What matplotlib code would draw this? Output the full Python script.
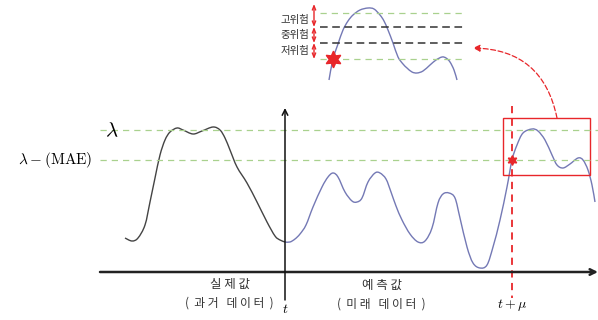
import numpy as np
import matplotlib.pyplot as plt
from matplotlib.patches import Rectangle, FancyArrowPatch, PathPatch
from matplotlib.path import Path

plt.rcParams['font.family'] = ['Noto Sans CJK KR', 'DejaVu Sans']
plt.rcParams['mathtext.fontset'] = 'cm'

# actual (past) series, x = time position, y = level (screen-down units)
actual_x = [125, 132, 138, 145, 150, 155, 160, 165, 170, 177, 183, 193, 202, 213, 220,
            225, 230, 237, 247, 257, 267, 275, 280, 285]
actual_y = [238, 241, 238, 225, 202, 178, 155, 140, 132, 128, 130, 134, 131, 127, 130,
            138, 150, 167, 183, 202, 222, 236, 240, 242]

# predicted (future) series
pred_x = [285, 290, 295, 300, 306, 313, 322, 328, 333, 338, 345, 352, 357, 362, 368, 375,
          380, 386, 391, 396, 402, 410, 418, 425, 432, 438, 443, 449, 455, 460, 467, 473,
          480, 487, 493, 500, 507, 512, 517, 523, 532, 538, 545, 552, 557, 563, 570, 578,
          583, 588, 592, 595]
pred_y = [242, 242, 239, 234, 225, 207, 187, 177, 173, 177, 192, 201, 202, 198, 182, 173,
          173, 179, 192, 206, 220, 234, 242, 241, 228, 203, 194, 193, 198, 218, 247, 263,
          268, 265, 247, 220, 187, 160, 145, 133, 129, 131, 140, 155, 165, 168, 164, 158,
          160, 170, 185, 202]

# zoomed view of the boxed part
zoom_x = [329, 333, 338, 343, 348, 353, 360, 368, 374, 380, 384, 388, 393, 398, 403, 407,
          412, 417, 423, 430, 436, 442, 446, 450, 454, 457]
zoom_y = [80, 59, 44, 30, 21, 15, 10, 8, 9, 15, 21, 30, 43, 57, 64, 68, 72, 73, 71, 65,
          60, 57, 58, 62, 70, 80]

lam, lam_mae = 130, 160
risk_levels = [13, 27, 43, 59]
risk_labels = ['고위험', '중위험', '저위험']
t_now, t_mu = 285, 512


def smooth_path(xs, ys):
    # cubic bezier segments through the given points (catmull-rom handles)
    p = np.column_stack([xs, ys]).astype(float)
    verts = [p[0]]
    codes = [Path.MOVETO]
    for i in range(len(p) - 1):
        p0 = p[i - 1] if i > 0 else p[i]
        p3 = p[i + 2] if i + 2 < len(p) else p[i + 1]
        c1 = p[i] + (p[i + 1] - p0) / 6
        c2 = p[i + 1] - (p3 - p[i]) / 6
        verts += [c1, c2, p[i + 1]]
        codes += [Path.CURVE4] * 3
    return Path(verts, codes)


def draw_curve(ax, xs, ys, color):
    ax.add_patch(PathPatch(smooth_path(xs, ys), fill=False, ec=color, lw=1.0))


fig = plt.figure(figsize=(5.98, 3.2), dpi=100)
ax = fig.add_axes([0, 0, 1, 1])
ax.set_xlim(0, 598)
ax.set_ylim(320, 0)
ax.axis('off')

green = '#a9d18e'
red = '#e8262a'

# threshold lines
for yv in [lam, lam_mae]:
    ax.plot([100, 598], [yv, yv], ls=(0, (5, 4)), color=green, lw=0.9)
ax.text(118, lam, r'$\lambda$', ha='right', va='center', fontsize=15)
ax.text(92, lam_mae, r'$\lambda-(\mathrm{MAE})$', ha='right', va='center', fontsize=11)

# axes
ax.annotate('', xy=(598, 272), xytext=(100, 272),
            arrowprops=dict(arrowstyle='->', lw=1.8, color='#222222', shrinkA=0, shrinkB=0))
ax.annotate('', xy=(t_now, 108), xytext=(t_now, 300),
            arrowprops=dict(arrowstyle='->', lw=1.1, color='#111111', shrinkA=0, shrinkB=0))

# curves
draw_curve(ax, actual_x, actual_y, '#444444')
draw_curve(ax, pred_x, pred_y, '#7479b5')

# t + mu marker
ax.plot([t_mu, t_mu], [106, 298], ls=(0, (4, 3)), color=red, lw=1.3)
ax.plot(t_mu, lam_mae, marker=(6, 1, 0), color=red, ms=7, mec=red)
ax.add_patch(Rectangle((503, 118), 87, 57, fill=False, ec=red, lw=1.0))

# labels under axis
ax.text(230, 284, '실 제 값', ha='center', va='center', fontsize=9, color='#333333')
ax.text(229, 303, '(  과 거   데 이 터  )', ha='center', va='center', fontsize=8.5, color='#333333')
ax.text(382, 285, '예 측 값', ha='center', va='center', fontsize=9, color='#333333')
ax.text(381, 304, '(  미 래   데 이 터  )', ha='center', va='center', fontsize=8.5, color='#333333')
ax.text(t_now, 309, r'$t$', ha='center', va='center', fontsize=10)
ax.text(t_mu, 305, r'$t+\mu$', ha='center', va='center', fontsize=10)

# inset
for i, yv in enumerate(risk_levels):
    if i in (0, 3):
        ax.plot([320, 465], [yv, yv], ls=(0, (5, 4)), color=green, lw=0.9)
    else:
        ax.plot([320, 465], [yv, yv], ls=(0, (5, 3)), color='#333333', lw=1.1)
draw_curve(ax, zoom_x, zoom_y, '#7479b5')
ax.plot(zoom_x[1], zoom_y[1], marker=(6, 1, 0), color=red, ms=12, mec=red)

ax.annotate('', xy=(314, 4), xytext=(314, risk_levels[1]),
            arrowprops=dict(arrowstyle='<->,head_length=0.3,head_width=0.12', lw=1.0,
                            color=red, shrinkA=0, shrinkB=0))
for a, b in [(risk_levels[1], risk_levels[2]), (risk_levels[2], risk_levels[3])]:
    ax.annotate('', xy=(314, a), xytext=(314, b),
                arrowprops=dict(arrowstyle='<->,head_length=0.3,head_width=0.12', lw=1.0,
                                color=red, shrinkA=0, shrinkB=0))
label_y = [20, 35, 51]
for lab, yv in zip(risk_labels, label_y):
    ax.text(309, yv, lab, ha='right', va='center', fontsize=7.5, color='#333333')

arc = FancyArrowPatch((557, 118), (473, 48), connectionstyle='arc3,rad=0.4',
                      arrowstyle='-|>,head_length=4,head_width=2', ls=(0, (4, 2)),
                      color=red, lw=0.9, shrinkA=0, shrinkB=0)
ax.add_patch(arc)

fig.savefig('out.png', dpi=100)
